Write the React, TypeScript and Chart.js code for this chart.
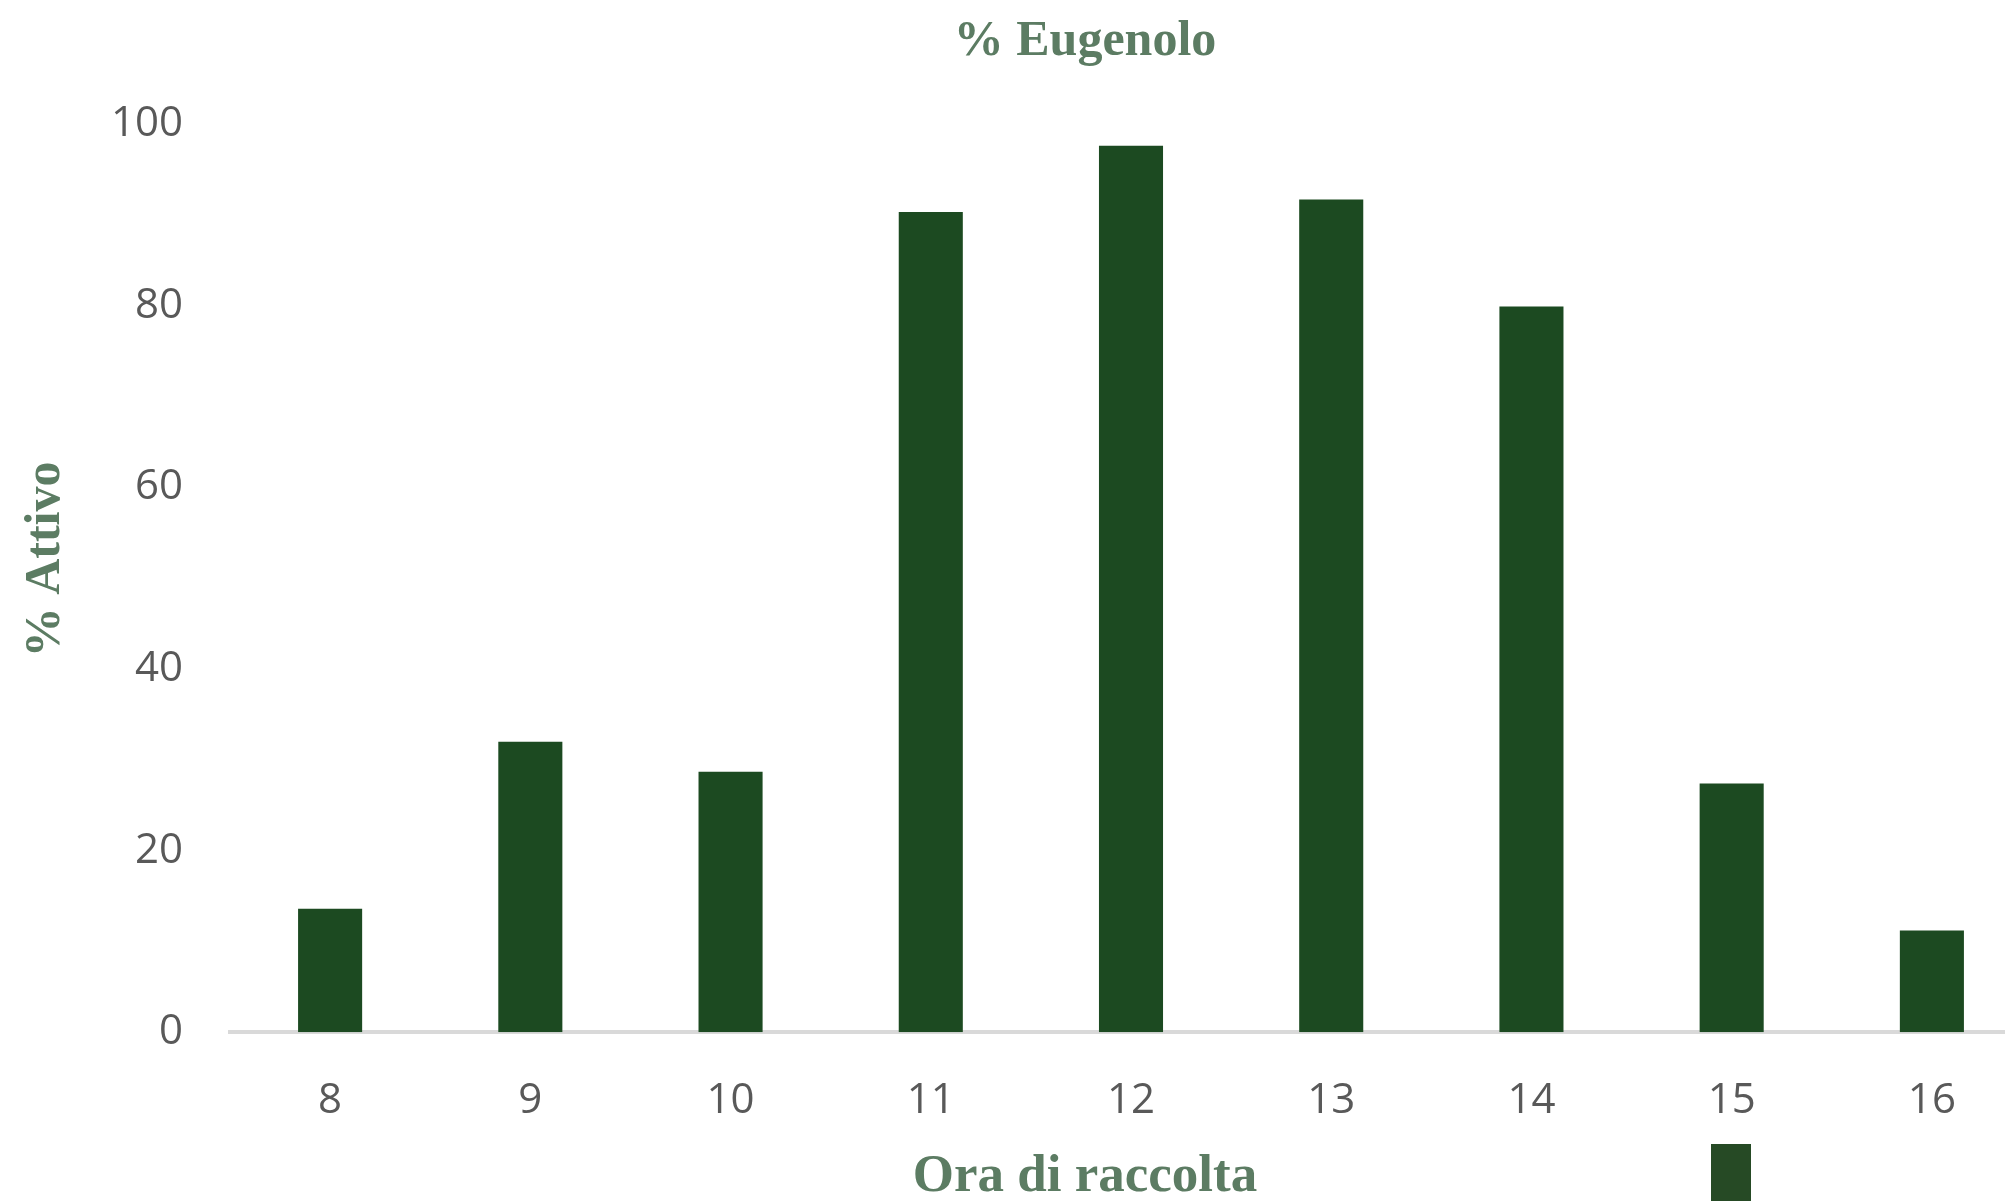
import React, { useEffect, useRef } from "react";
import { Chart, registerables } from "chart.js";

Chart.register(...registerables);

const categories: string[] = ["8", "9", "10", "11", "12", "13", "14", "15", "16"];
const eugenolValues: number[] = [13.6, 32.0, 28.7, 90.3, 97.6, 91.7, 79.9, 27.4, 11.2];
const yTicks: number[] = [0, 20, 40, 60, 80, 100];

const BAR_COLOR = "#1c4a21";
const TITLE_COLOR = "#5c7c63";
const TICK_COLOR = "#595959";
const SERIF = "'Liberation Serif', 'DejaVu Serif', serif";
const SANS = "'Open Sans', 'Noto Sans', sans-serif";

export default function App() {
  const canvasRef = useRef<HTMLCanvasElement | null>(null);

  useEffect(() => {
    if (!canvasRef.current) return;
    const chart = new Chart(canvasRef.current, {
      type: "bar",
      data: {
        labels: categories,
        datasets: [
          {
            label: "% Eugenolo",
            data: eugenolValues,
            backgroundColor: BAR_COLOR,
            borderWidth: 0,
            barPercentage: 0.32,
            categoryPercentage: 1,
          },
        ],
      },
      options: {
        responsive: false,
        animation: false,
        devicePixelRatio: 1,
        layout: { padding: 0 },
        plugins: {
          legend: { display: false },
          tooltip: { enabled: false },
          title: {
            display: true,
            text: "% Eugenolo",
            color: TITLE_COLOR,
            font: { family: SERIF, size: 50, weight: "bold", lineHeight: 1.2 },
            padding: { top: 12, bottom: 52 },
          },
          subtitle: {
            display: true,
            position: "bottom",
            text: "Ora di raccolta",
            color: TITLE_COLOR,
            font: { family: SERIF, size: 53, weight: "bold", lineHeight: 0.88 },
            padding: { top: 0, bottom: 0 },
          },
        },
        scales: {
          x: {
            grid: { display: false, drawTicks: false },
            border: { display: true, color: "#d9d9d9", width: 4 },
            ticks: {
              color: TICK_COLOR,
              font: { family: SANS, size: 42, lineHeight: 1.2 },
              padding: 43,
              maxRotation: 0,
            },
            afterFit: (scale: any) => {
              scale.height = 122;
            },
          },
          y: {
            min: 0,
            max: 100,
            afterBuildTicks: (scale: any) => {
              scale.ticks = yTicks.map((v) => ({ value: v }));
            },
            grid: { display: false, drawTicks: false },
            border: { display: false },
            ticks: {
              color: TICK_COLOR,
              font: { family: SANS, size: 42, lineHeight: 1.2 },
              padding: 47,
            },
            title: {
              display: true,
              text: "   % Attivo",
              color: TITLE_COLOR,
              font: { family: SERIF, size: 50, weight: "bold", lineHeight: 1 },
              padding: { top: 21, bottom: 0 },
            },
            afterFit: (scale: any) => {
              scale.width = 230;
            },
          },
          yRight: {
            type: "linear",
            position: "right",
            display: true,
            min: 0,
            max: 100,
            grid: { display: false, drawTicks: false },
            border: { display: false },
            ticks: { display: false },
            afterFit: (scale: any) => {
              scale.width = 138;
            },
          },
        },
      },
    });
    return () => chart.destroy();
  }, []);

  return (
    <div
      style={{
        position: "fixed",
        left: 0,
        top: 0,
        width: 2005,
        height: 1201,
        overflow: "hidden",
        background: "#ffffff",
      }}
    >
      <canvas ref={canvasRef} width={2170} height={1201} style={{ width: 2170, height: 1201, display: "block" }} />
      <div
        style={{
          position: "absolute",
          left: 1711,
          top: 1144,
          width: 40,
          height: 60,
          background: "#264a25",
        }}
      />
    </div>
  );
}
